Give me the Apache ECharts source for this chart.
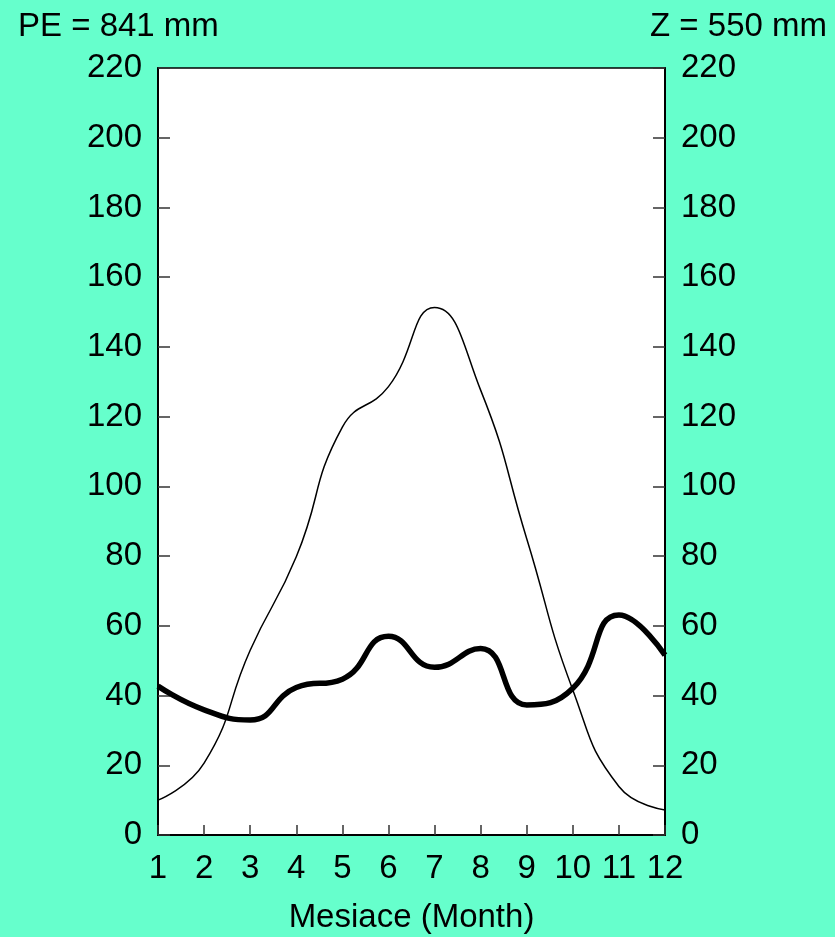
<!DOCTYPE html>
<html>
<head>
<meta charset="utf-8">
<script src="https://cdn.jsdelivr.net/npm/echarts@6/dist/echarts.min.js"></script>
<style>
html,body{margin:0;padding:0;background:#66FFCC;}
#chart{width:835px;height:937px;}
</style>
</head>
<body>
<div id="chart"></div>
<script>
// Months (x positions and tick labels)
const months = [1,2,3,4,5,6,7,8,9,10,11,12];
// Thin line: potential evapotranspiration (PE = 841 mm)
const peValues = [10,20.6,53,79.8,117,128.6,151.3,127.6,85,41.6,13.9,7.2];
// Thick line: precipitation (Z = 550 mm)
const zValues = [42.7,35.9,33,42.3,44.7,57,48.1,53.5,37.3,42.1,63.1,51.6];
const leftLabel = 'PE = 841 mm';
const rightLabel = 'Z = 550 mm';
const xAxisName = 'Mesiace (Month)';

const FONT = '"Liberation Sans", Arial, sans-serif';
const chart = echarts.init(document.getElementById('chart'));

const yAxisBase = {
  type: 'value', min: 0, max: 220, interval: 20,
  axisLine: {show: true, lineStyle: {color: '#000', width: 2}},
  axisTick: {show: true, inside: true, length: 12, lineStyle: {color: '#333', width: 1.5}},
  splitLine: {show: false},
  axisLabel: {fontSize: 33, color: '#000', fontFamily: FONT, margin: 16}
};

chart.setOption({
  backgroundColor: '#66FFCC',
  animation: false,
  title: [
    {text: leftLabel, left: 13, top: 5, textStyle: {fontSize: 33, fontWeight: 'normal', color: '#000', fontFamily: FONT}},
    {text: rightLabel, right: 3, top: 5, textStyle: {fontSize: 33, fontWeight: 'normal', color: '#000', fontFamily: FONT}}
  ],
  grid: {left: 158, right: 170, top: 68, bottom: 102, containLabel: false, outerBoundsMode: 'none',
         show: true, backgroundColor: '#fff', borderColor: '#000', borderWidth: 1.5},
  xAxis: {
    type: 'value', min: 1, max: 12, interval: 1,
    name: xAxisName, nameLocation: 'middle', nameGap: 66,
    nameTextStyle: {fontSize: 33, color: '#000', fontFamily: FONT},
    axisLine: {show: true, lineStyle: {color: '#000', width: 2}},
    axisTick: {show: true, inside: true, length: 10, lineStyle: {color: '#333', width: 1.5}},
    splitLine: {show: false},
    axisLabel: {fontSize: 33, color: '#000', fontFamily: FONT, margin: 17}
  },
  yAxis: [
    Object.assign({}, yAxisBase, {position: 'left'}),
    Object.assign({}, yAxisBase, {position: 'right'})
  ],
  series: [
    {
      type: 'line', smooth: 0.5, symbol: 'none', yAxisIndex: 0,
      data: months.map((m, i) => [m, peValues[i]]),
      lineStyle: {color: '#000', width: 1.5}
    },
    {
      type: 'line', smooth: 0.5, symbol: 'none', yAxisIndex: 0,
      data: months.map((m, i) => [m, zValues[i]]),
      lineStyle: {color: '#000', width: 5.5}
    }
  ]
});
</script>
</body>
</html>
